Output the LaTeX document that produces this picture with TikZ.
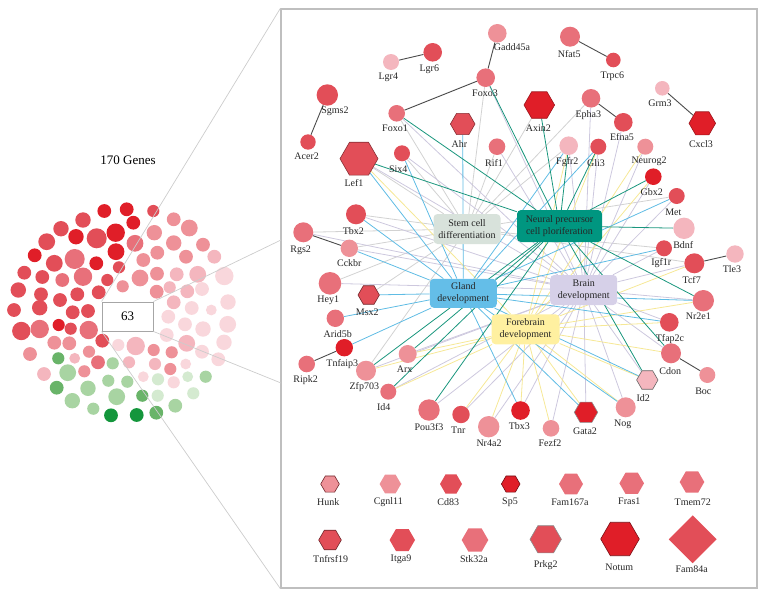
\documentclass[tikz,border=0pt]{standalone}
\usepackage{fontspec}
\setmainfont{Liberation Serif}
\usetikzlibrary{shapes.geometric}
\pgfdeclarelayer{bg}
\pgfsetlayers{bg,main}
\definecolor{cD}{RGB}{224,30,40}
\definecolor{cR}{RGB}{226,78,88}
\definecolor{cP}{RGB}{232,112,122}
\definecolor{cK}{RGB}{238,145,152}
\definecolor{cL}{RGB}{244,182,190}
\definecolor{cV}{RGB}{249,215,220}
\definecolor{gA}{RGB}{20,150,60}
\definecolor{gB}{RGB}{105,180,105}
\definecolor{gC}{RGB}{168,212,162}
\definecolor{gD}{RGB}{212,234,208}
\definecolor{eT}{RGB}{25,150,125}
\definecolor{eB}{RGB}{95,188,228}
\definecolor{eY}{RGB}{246,232,150}
\definecolor{eL}{RGB}{205,200,222}
\definecolor{eG}{RGB}{210,210,210}
\definecolor{hS}{RGB}{216,226,219}
\definecolor{hN}{RGB}{0,150,128}
\definecolor{hG}{RGB}{100,190,232}
\definecolor{hF}{RGB}{255,240,160}
\definecolor{hB}{RGB}{214,208,232}
\tikzset{
  gcirc/.style={circle, inner sep=0pt, draw=none},
  ghex/.style={regular polygon, regular polygon sides=6, inner sep=0pt, line width=0.6pt},
  lbl/.style={font=\fontsize{10}{11}\selectfont, text=black!85, inner sep=0pt},
  hubbox/.style={rounded corners=4pt, align=center, font=\fontsize{10}{12}\selectfont, inner sep=0pt, text=black!85},
  edgeline/.style={line width=0.8pt},
  pair/.style={line width=0.9pt, black!70},
}
\newcommand{\gC}[7]{\node[gcirc,fill=#5,minimum size=#4pt] (#1) at (#2,#3) {}; \node[lbl] (l#1) at (#6,#7) {#1};}
\newcommand{\gH}[8]{\node[ghex,fill=#5,draw=#8,minimum size=#4pt] (#1) at (#2,#3) {}; \node[lbl] (l#1) at (#6,#7) {#1};}
\begin{document}
\begin{tikzpicture}[x=1pt,y=-1pt]
\useasboundingbox (0,0) rectangle (765,597);
% ---------- left cluster ----------
\node[font=\fontsize{13}{15}\selectfont] (title) at (128,160) {170 Genes};
\foreach \x/\y/\r/\c in {
104.3/211/6/cD,126.7/209.3/6/cD,153.3/211/5.3/cR,133.3/222.7/6/cD,83/220/6.7/cR,61/228.7/6.7/cR,76/236.7/6.7/cD,96.7/238.3/8.7/cR,115.7/232.7/8/cD,135/243.3/7.3/cP,154.3/232.7/6.7/cK,173.7/219.3/6/cK,189.3/228/7.3/cK,
46.7/241.7/7.3/cR,34.7/255.3/6/cD,54.3/263.3/7.3/cR,74.7/259/8.7/cP,96.3/263.3/6/cD,116/251.7/7.3/cD,119/267.3/5.3/cR,143.3/260/6/cK,157.3/252.7/6/cK,173.7/243/6.7/cK,186/256.7/6/cK,203/244.7/6/cK,214.3/256.7/6/cL,
24.3/272.7/6/cR,42.3/277/6/cR,62.3/280/6/cP,83/276.7/8/cP,107.3/280/5.3/cR,122.7/286.3/5.3/cK,140/278/7.3/cK,157/273.7/6/cK,176.7/274.3/6/cL,197.7/274.3/7.3/cL,224.3/276/8/cV,
18.3/290/6.7/cR,41/294.3/6/cR,60/300/6/cR,77.3/294.3/6/cR,98.7/292.3/6/cR,156.7/291.7/6/cK,169.7/287.3/5.3/cL,187.3/291.3/6/cL,202/289/6/cV,228/302/6.7/cV,
14/310/6/cR,39.7/307.7/6.7/cR,72.7/312.3/6/cR,88/311/6/cR,173.7/302.3/6/cL,191.7/308/6/cV,211.3/310/4.7/cV,168.3/316.7/6/cV,185/324.3/6/cV,203/329/6.7/cV,227.7/324.3/7.3/cV,
21.3/331/8/cR,39.7/329/8/cP,58.7/325/5.3/cD,70.7/328.7/5.3/cR,88.7/330/8/cP,166.7/335/6/cV,186.7/343.3/7.3/cL,202/351.7/6/cV,224/342.3/6.7/cV,218.3/359.3/6/cV,
54.3/342.7/6/cK,69.3/343.3/6/cK,102.3/340.7/6/cR,118.3/345/5.3/cV,135.7/346/8/cL,153.7/350/5.3/cK,171.7/352.3/5.3/cK,
30/354/6/cK,58.3/358.3/5.3/gB,74.7/358.3/4.7/cL,89/351.7/5.3/cK,98/362.3/6/cP,112.7/363.3/5.3/gC,129/362.3/5.3/cL,155/364/5.3/cL,170.3/369/5.3/cK,185.7/364/4.7/cV,
44/374/6/cL,67.7/372.7/7.3/gC,84.3/371.3/5.3/cK,108.3/380.7/5.3/gC,127.3/381.7/5.3/gC,143.3/376.7/4.7/cV,158/379.3/5.3/gD,173.7/382.3/5.3/cV,187.7/376.7/4.7/gD,205.7/376.7/5.3/gC,
56.7/387.7/6/gB,88/388.3/6.7/gC,116.7/396.7/7.3/gC,142.3/395.7/5.3/gB,157.7/395.7/5.3/gD,193.3/393.3/5.3/gD,72.3/400.7/6.7/gC,93.3/408.7/5.3/gC,175.3/405.7/6/gC,
111/415.3/6/gA,136.7/415/6/gA,156.3/412.7/6/gB}
  \fill[\c] (\x,\y) circle[radius=1.15*\r pt];
% ---------- panel and zoom lines ----------
\node[draw=black!25, line width=1.3pt, minimum width=476pt, minimum height=579pt, inner sep=0pt] (panel) at (519,298.5) {};
\coordinate (pA) at (281,240);
\coordinate (pB) at (281,383);
\node[draw=black!35, fill=white, line width=0.9pt, minimum width=51pt, minimum height=29pt, inner sep=0pt, font=\fontsize{13}{15}\selectfont] (box) at (127.5,316.5) {63};
\draw[black!20, line width=0.7pt] (box.north west) -- (panel.north west);
\draw[black!20, line width=0.7pt] (box.north east) -- (pA);
\draw[black!20, line width=0.7pt] (box.south east) -- (pB);
\draw[black!20, line width=0.7pt] (box.south west) -- (panel.south west);
% ---------- hubs ----------
\node[hubbox, fill=hS, minimum width=67pt, minimum height=30pt] (sc) at (467,229) {Stem cell\\differentiation};
\node[hubbox, fill=hN, minimum width=85pt, minimum height=32pt] (np) at (559.5,226) {Neural precursor\\cell ploriferation};
\node[hubbox, fill=hG, minimum width=67pt, minimum height=29pt] (gl) at (463.3,293.3) {Gland\\development};
\node[hubbox, fill=hB, minimum width=67pt, minimum height=30pt] (br) at (583.7,290) {Brain\\development};
\node[hubbox, fill=hF, minimum width=68pt, minimum height=30pt] (fb) at (525.5,329.3) {Forebrain\\development};
% ---------- genes (circles) ----------
\gC{Gadd45a}{497.3}{33.3}{18.6}{cK}{512}{47}
\gC{Lgr4}{391}{62}{16}{cL}{388.3}{77.7}
\gC{Lgr6}{432.7}{52.3}{18.6}{cR}{429.3}{69}
\gC{Foxo3}{485.7}{77.7}{18.6}{cP}{485}{93.7}
\gC{Sgms2}{327.3}{95}{21.4}{cR}{335}{111}
\gC{Foxo1}{396.7}{113.3}{16.6}{cP}{395}{128}
\gC{Rif1}{497}{146.7}{16.6}{cP}{494}{162.7}
\gC{Acer2}{308}{142}{15.4}{cR}{306.7}{156}
\gC{Six4}{402}{153.3}{16}{cR}{398.3}{169}
\gC{Nfat5}{570}{36.7}{20}{cP}{569.3}{54}
\gC{Trpc6}{613.3}{60}{14.6}{cR}{612.3}{76}
\gC{Grm3}{662.3}{88.3}{14.6}{cL}{660}{103.3}
\gC{Epha3}{591}{98.3}{18.6}{cP}{588.3}{115}
\gC{Efna5}{623.3}{122.3}{18.6}{cR}{622}{137.3}
\gC{Fgfr2}{568.7}{145.7}{18.6}{cL}{567.3}{162.3}
\gC{Gli3}{598.3}{146.7}{16}{cR}{596}{163}
\gC{Neurog2}{645.3}{146.7}{16}{cK}{649}{161.3}
\gC{Gbx2}{653.3}{176.7}{16.6}{cD}{651.7}{192.3}
\gC{Met}{676.7}{196}{16}{cR}{673.3}{212.3}
\gC{Bdnf}{684}{228.3}{21.4}{cL}{683.3}{245}
\gC{Igf1r}{664}{248.3}{16}{cR}{661.3}{262.7}
\gC{Tcf7}{694.3}{263.3}{20}{cR}{691.7}{280}
\gC{Tle3}{735}{254}{17.4}{cL}{732}{269.3}
\gC{Nr2e1}{703.3}{300.7}{21.4}{cP}{698.3}{316.7}
\gC{Tfap2c}{669.3}{322.3}{18.6}{cR}{670}{339.3}
\gC{Cdon}{671}{353.3}{20}{cP}{670.3}{370.7}
\gC{Boc}{707.3}{375}{16}{cK}{703.3}{391}
\gC{Tbx2}{356}{214.3}{20}{cR}{353.3}{231}
\gC{Rgs2}{303.3}{232.3}{20}{cP}{300.7}{250}
\gC{Cckbr}{349.3}{248.3}{17.4}{cK}{349.3}{262.7}
\gC{Hey1}{330}{283.3}{22.6}{cP}{328.3}{300}
\gC{Arid5b}{335.3}{318.3}{17.4}{cP}{337.7}{334}
\gC{Tnfaip3}{344.3}{347.7}{17.4}{cD}{342.3}{364}
\gC{Ripk2}{306.7}{364}{16.6}{cP}{305.7}{380.3}
\gC{Zfp703}{366}{370.7}{20}{cK}{364.3}{387.3}
\gC{Arx}{407.7}{354}{18}{cK}{404.7}{369.3}
\gC{Id4}{388.3}{391.7}{16}{cP}{383.7}{407.3}
\gC{Pou3f3}{429}{410}{21.4}{cP}{429}{426.7}
\gC{Tnr}{461}{414.5}{17.4}{cR}{458.3}{430.7}
\gC{Nr4a2}{488.7}{426.7}{21.4}{cK}{489}{443.3}
\gC{Tbx3}{520.5}{410.5}{18.6}{cD}{519.3}{426}
\gC{Fezf2}{551}{428.3}{16.6}{cK}{550}{443.3}
\gC{Nog}{625.7}{407.3}{20}{cK}{622.7}{424}
% ---------- genes (hexagons) ----------
\gH{Ahr}{462.7}{124}{24.6}{cR}{459.3}{144}{cR!60!black}
\gH{Lef1}{359}{158.7}{38}{cR}{354}{183.3}{cR!60!black}
\gH{Axin2}{539.3}{105}{30.6}{cD}{538.3}{127.7}{cD!70!black}
\gH{Cxcl3}{702.3}{123.3}{26.6}{cD}{701}{144.3}{cD!70!black}
\gH{Msx2}{368.7}{295}{21.4}{cR}{367.3}{312}{cR!50!black}
\gH{Id2}{647.3}{380}{21.4}{cL}{643.3}{397.7}{black!60}
\gH{Gata2}{586}{412.3}{23.4}{cD}{585}{431.7}{black!45}
% ---------- unconnected genes ----------
\gH{Hunk}{330}{484}{18.6}{cK}{328.3}{502.3}{cR!50!black}
\gH{Cgnl11}{390.3}{484}{21.4}{cK}{388.3}{501.7}{none}
\gH{Cd83}{451}{484}{22}{cR}{448.3}{501.7}{none}
\gH{Sp5}{510.7}{484}{18.6}{cD}{510}{502.7}{cD!50!black}
\gH{Fam167a}{571}{484}{24}{cP}{570}{502.7}{none}
\gH{Fras1}{631.7}{483.3}{24.6}{cP}{629.3}{501.7}{none}
\gH{Tmem72}{692}{482}{24.6}{cP}{692.7}{502.3}{none}
\gH{Tnfrsf19}{330}{540}{22.6}{cR}{330.7}{559.3}{cR!50!black}
\gH{Itga9}{402.3}{540}{25.4}{cR}{401}{559.3}{none}
\gH{Stk32a}{475}{540}{26.6}{cP}{474}{559.3}{none}
\gH{Prkg2}{545.7}{539.3}{31.4}{cR}{545.7}{565}{black!45}
\gH{Notum}{620}{539}{38.6}{cD}{619.3}{567.7}{cD!55!black}
\node[diamond, fill=cR, inner sep=0pt, minimum width=48pt, minimum height=48pt] (Fam84a) at (692.7,539.3) {};
\node[lbl] (lFam84a) at (691.7,569.3) {Fam84a};
% ---------- edges ----------
\begin{pgfonlayer}{bg}
\foreach \g in {Lef1,Six4,Foxo1,Foxo3,Rif1,Tbx2,Cckbr,Hey1,Zfp703,Axin2,Fgfr2,Epha3,Msx2,Igf1r,Met,Tcf7,Rgs2}
  \draw[edgeline, eG] (sc) -- (\g);
\foreach \g in {Lef1,Six4,Foxo1,Rif1,Foxo3,Epha3,Efna5,Neurog2,Gli3,Fgfr2,Gbx2,Met,Igf1r,Tcf7,Nr2e1,Tfap2c,Cdon,Id2,Nog,Gata2,Fezf2,Nr4a2,Tbx3,Tnr,Pou3f3,Id4,Arx,Zfp703,Hey1,Tbx2,Cckbr,Rgs2}
  \draw[edgeline, eL] (br) -- (\g);
\foreach \g in {Lef1,Fgfr2,Gli3,Neurog2,Gbx2,Arx,Id4,Zfp703,Tnr,Fezf2,Gata2,Nog,Tfap2c,Nr2e1,Cdon,Id2,Tbx3,Nr4a2,Tcf7}
  \draw[edgeline, eY] (fb) -- (\g);
\foreach \g in {Lef1,Six4,Ahr,Tbx2,Cckbr,Msx2,Arid5b,Tnfaip3,Tbx3,Gata2,Nog,Id2,Tfap2c,Igf1r,Met,Fgfr2,Gli3,Nr2e1}
  \draw[edgeline, eB] (gl) -- (\g);
\foreach \g in {Foxo3,Foxo1,Lef1,Axin2,Fgfr2,Gli3,Gbx2,Bdnf,Nr2e1,Cdon,Id2,Arx,Id4,Pou3f3,Zfp703}
  \draw[edgeline, eT] (np) -- (\g);
\draw[pair] (Lgr4) -- (Lgr6);
\draw[pair] (Gadd45a) -- (Foxo3);
\draw[pair] (Foxo3) -- (Foxo1);
\draw[pair] (Sgms2) -- (Acer2);
\draw[pair] (Nfat5) -- (Trpc6);
\draw[pair] (Grm3) -- (Cxcl3);
\draw[pair] (Epha3) -- (Efna5);
\draw[pair] (Rgs2) -- (Cckbr);
\draw[pair] (Tnfaip3) -- (Ripk2);
\draw[pair] (Tcf7) -- (Tle3);
\draw[pair] (Cdon) -- (Boc);
\end{pgfonlayer}
\end{tikzpicture}
\end{document}
